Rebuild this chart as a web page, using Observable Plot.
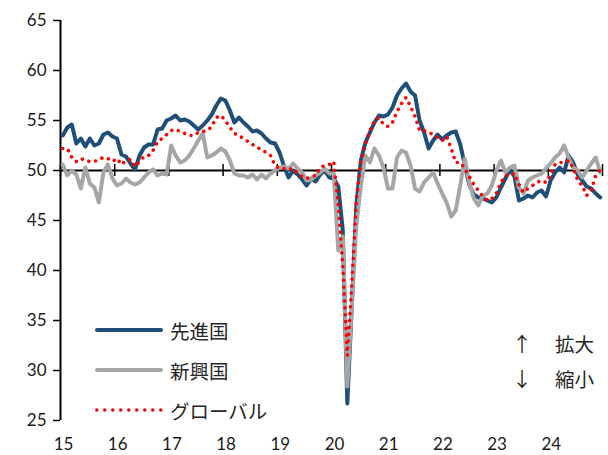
<!DOCTYPE html>
<html><head><meta charset="utf-8">
<script src="https://cdn.jsdelivr.net/npm/d3@7"></script>
<script src="https://cdn.jsdelivr.net/npm/@observablehq/plot@0.6"></script>
<style>
body{margin:0;background:#fff;}
#wrap{position:relative;width:608px;height:455px;overflow:hidden;}
.legend{position:absolute;font-family:"Noto Sans CJK JP","Noto Sans",sans-serif;font-size:19.5px;color:#262626;}
.row{display:flex;align-items:center;}
.row svg{display:block;}
</style></head><body><div id="wrap"></div>
<script>
const yearLabels = ["15","16","17","18","19","20","21","22","23","24"];
const yTicks = [25,30,35,40,45,50,55,60,65];
const seriesNames = ["先進国","新興国","グローバル"];
const arrowLabels = [["↑","拡大"],["↓","縮小"]];

// Monthly values, Jan 2015 – Dec 2024
const advanced = [
 53.5,54.3,54.6,52.7,53.2,52.4,53.2,52.5,52.7,53.6,53.8,53.4,
 53.2,51.6,51.4,50.7,50.1,51.5,52.3,52.6,52.6,54.1,54.2,55.0,
 55.2,55.5,55.0,55.1,54.9,54.5,54.1,54.5,55.0,55.6,56.5,57.2,
 57.0,56.0,54.8,55.3,54.8,54.4,53.9,54.0,53.7,53.2,52.8,52.7,
 51.8,50.4,49.3,50.0,49.6,49.1,48.5,49.2,48.9,49.6,50.0,49.3,
 49.2,48.4,44.0,26.7,36.5,46.5,51.0,52.8,53.8,54.8,55.5,55.4,
 55.6,56.3,57.5,58.2,58.7,57.9,57.5,55.0,53.8,52.2,53.0,53.6,
 53.1,53.5,53.8,53.9,52.6,50.6,48.6,47.6,47.3,47.2,47.0,46.8,
 47.3,48.3,49.2,50.1,49.4,47.0,47.2,47.5,47.3,47.8,48.0,47.4,
 49.0,49.8,50.3,49.8,51.5,50.8,49.6,49.0,48.4,48.2,47.7,47.3];
const emerging = [
 50.6,49.5,50.0,49.6,48.2,50.3,48.7,48.3,46.8,49.8,50.6,49.2,
 48.5,48.7,49.2,48.8,48.6,48.8,49.3,49.8,50.1,49.5,49.7,49.6,
 52.5,51.5,50.8,51.0,51.5,52.2,53.0,53.7,51.3,51.5,51.8,52.2,
 51.9,51.0,49.7,49.5,49.5,49.3,49.6,49.1,49.6,49.2,49.7,50.0,
 50.3,50.4,50.2,50.7,50.2,49.8,49.0,49.1,49.5,49.8,50.2,49.7,
 49.7,42.0,43.4,28.4,36.5,44.5,48.5,51.5,50.8,52.2,51.5,50.3,
 48.2,48.2,51.3,52.0,51.8,50.5,48.2,47.9,48.8,49.3,49.8,48.7,
 47.7,46.8,45.4,46.0,48.5,51.2,48.8,47.2,46.5,47.5,47.7,48.5,
 50.0,51.0,49.8,50.3,50.5,48.3,47.7,49.0,49.3,49.5,49.7,50.2,
 50.7,51.3,51.7,52.5,51.3,50.3,50.0,49.3,50.0,50.7,51.3,49.8];
const globalPMI = [
 52.2,52.2,51.3,50.9,51.2,51.0,50.9,50.9,51.1,51.3,51.2,50.9,
 51.2,50.6,51.0,51.1,50.4,50.9,51.4,51.5,52.0,52.9,53.2,53.6,
 54.0,54.1,53.9,53.7,53.5,53.5,53.8,53.9,54.0,54.4,55.3,55.5,
 55.0,54.3,53.7,53.5,53.2,52.9,52.6,52.3,52.1,51.8,51.5,50.5,
 50.2,50.2,50.1,50.2,49.7,49.4,49.2,49.4,49.5,50.3,50.5,50.6,
 50.9,46.5,40.5,31.5,38.5,47.0,50.8,52.6,54.0,54.9,55.3,54.6,
 54.4,54.8,55.9,56.7,57.3,56.4,55.4,54.0,54.0,53.8,53.6,53.3,
 53.0,53.4,52.2,50.8,50.8,50.2,49.4,48.6,48.0,47.4,47.0,47.2,
 47.7,48.8,49.5,49.5,49.7,48.6,47.8,48.2,48.5,48.8,49.0,48.8,
 49.6,50.6,50.8,50.8,51.0,50.3,49.0,48.5,47.5,48.0,49.5,50.1];

const colors = ["#1F4E79","#A6A6A6","#FF0000"];
const toRows = arr => arr.map((v,i)=>({m:i+0.5, v}));
const yearStarts = d3.range(0, 121, 12);

const chart = Plot.plot({
  width: 608, height: 455,
  marginTop: 20, marginBottom: 35, marginLeft: 60, marginRight: 6,
  x: {domain: [0,120]},
  y: {domain: [25,65]},
  style: {fontFamily: "Lato, 'Liberation Sans', sans-serif", fontSize: "17px", color: "#1a1a1a", background: "white"},
  marks: [
    Plot.axisY({ticks: yTicks, tickSize: 7, tickPadding: 7, label: null, strokeWidth: 1.5, stroke: "#000"}),
    Plot.axisX({ticks: yearStarts.slice(0,10), tickFormat: (d,i)=>yearLabels[i], tickSize: 0, tickPadding: 17, dx: 3, label: null}),
    Plot.ruleY([50], {stroke: "#000", strokeWidth: 2}),
    Plot.ruleX(yearStarts, {x: d=>d, y1: 49.4, y2: 50.6, stroke: "#000", strokeWidth: 1.5}),
    Plot.ruleX([0], {y1: 25, y2: 65, stroke: "#000", strokeWidth: 2}),
    Plot.line(toRows(advanced), {x:"m", y:"v", stroke: colors[0], strokeWidth: 4, strokeLinejoin:"round"}),
    Plot.line(toRows(emerging), {x:"m", y:"v", stroke: colors[1], strokeWidth: 4, strokeLinejoin:"round"}),
    Plot.line(toRows(globalPMI), {x:"m", y:"v", stroke: colors[2], strokeWidth: 3.5, strokeDasharray: "0.1,6.8", strokeLinecap: "round"})
  ]
});
const wrap = document.getElementById("wrap");
wrap.appendChild(chart);

// series legend
const lg = d3.select(wrap).append("div").attr("class","legend").style("left","95px").style("top","310px");
seriesNames.forEach((name,i)=>{
  const row = lg.append("div").attr("class","row").style("height","40px");
  const s = row.append("svg").attr("width",68).attr("height",10);
  const ln = s.append("line").attr("x1",2).attr("x2",66).attr("y1",5).attr("y2",5)
    .attr("stroke",colors[i]).attr("stroke-linecap","round");
  if (i===2) ln.attr("stroke-width",3.4).attr("stroke-dasharray","0.1,7.9").attr("x1",1.7).attr("x2",66);
  else ln.attr("stroke-width",4);
  row.append("span").style("margin-left","7px").text(name);
});
// direction legend
const lg2 = d3.select(wrap).append("div").attr("class","legend").style("left","512px").style("top","326px");
arrowLabels.forEach(([a,t])=>{
  const row = lg2.append("div").attr("class","row").style("height","35px");
  row.append("span").style("display","inline-block").style("width","43px").style("font-family","'Noto Sans CJK JP',sans-serif").style("font-size","20px").text(a);
  row.append("span").text(t);
});
</script></body></html>
